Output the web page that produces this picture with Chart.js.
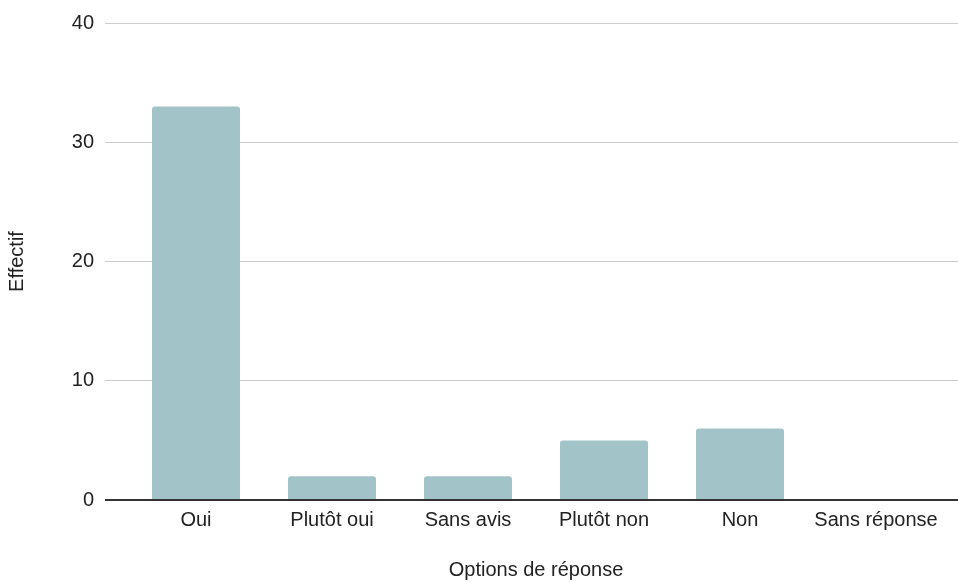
<!DOCTYPE html>
<html>
<head>
<meta charset="utf-8">
<script src="https://cdn.jsdelivr.net/npm/chart.js@4/dist/chart.umd.min.js"></script>
<style>
  html, body { margin: 0; padding: 0; background: #fff; }
  #wrap { width: 958px; height: 582px; }
</style>
</head>
<body>
<div id="wrap"><canvas id="chart"></canvas></div>
<script>
// Data
const categories = ['Oui', 'Plutôt oui', 'Sans avis', 'Plutôt non', 'Non', 'Sans réponse'];
const effectif = [33, 2, 2, 5, 6, 0];
const yTicks = [0, 10, 20, 30, 40];

Chart.defaults.font.family = '"Liberation Sans", Arial, sans-serif';
Chart.defaults.font.size = 20;
Chart.defaults.color = '#222';

const gridColor = ctx => (ctx.tick && ctx.tick.value === 0) ? '#333' : '#cccccc';
const gridWidth = ctx => (ctx.tick && ctx.tick.value === 0) ? 2 : 1;

new Chart(document.getElementById('chart'), {
  type: 'bar',
  data: {
    labels: categories,
    datasets: [{
      label: 'Effectif',
      data: effectif,
      backgroundColor: '#a2c4c9',
      borderRadius: { topLeft: 3, topRight: 3, bottomLeft: 0, bottomRight: 0 },
      borderSkipped: false,
      categoryPercentage: 1,
      barPercentage: 0.647
    }]
  },
  options: {
    responsive: true,
    maintainAspectRatio: false,
    animation: false,
    layout: { padding: { top: 10, left: 0, right: 0, bottom: 0 } },
    plugins: {
      legend: { display: false },
      tooltip: { enabled: false }
    },
    scales: {
      x: {
        z: 1,
        grid: { display: false, drawTicks: false },
        border: { display: true, color: '#333', width: 2 },
        ticks: { padding: 8, color: '#222', maxRotation: 0 },
        title: {
          display: true,
          text: 'Options de réponse',
          color: '#222',
          padding: { top: 0, bottom: 0 }
        },
        afterFit: s => { s.height = 82; }
      },
      y: {
        min: 0,
        max: 40,
        afterBuildTicks: s => { s.ticks = yTicks.map(v => ({ value: v })); },
        grid: { color: gridColor, lineWidth: gridWidth, drawTicks: true, tickLength: 23 },
        border: { display: false },
        ticks: { padding: 11, color: '#222' },
        title: {
          display: true,
          text: 'Effectif',
          color: '#222',
          padding: { top: 5, bottom: 0 }
        },
        afterFit: s => { s.width = 128; }
      },
      y2: {
        position: 'right',
        min: 0,
        max: 40,
        afterBuildTicks: s => { s.ticks = yTicks.map(v => ({ value: v })); },
        grid: { color: gridColor, lineWidth: gridWidth, drawOnChartArea: false, drawTicks: true, tickLength: 14 },
        border: { display: false },
        ticks: { display: false },
        afterFit: s => { s.width = 14; }
      }
    }
  }
});
</script>
</body>
</html>
